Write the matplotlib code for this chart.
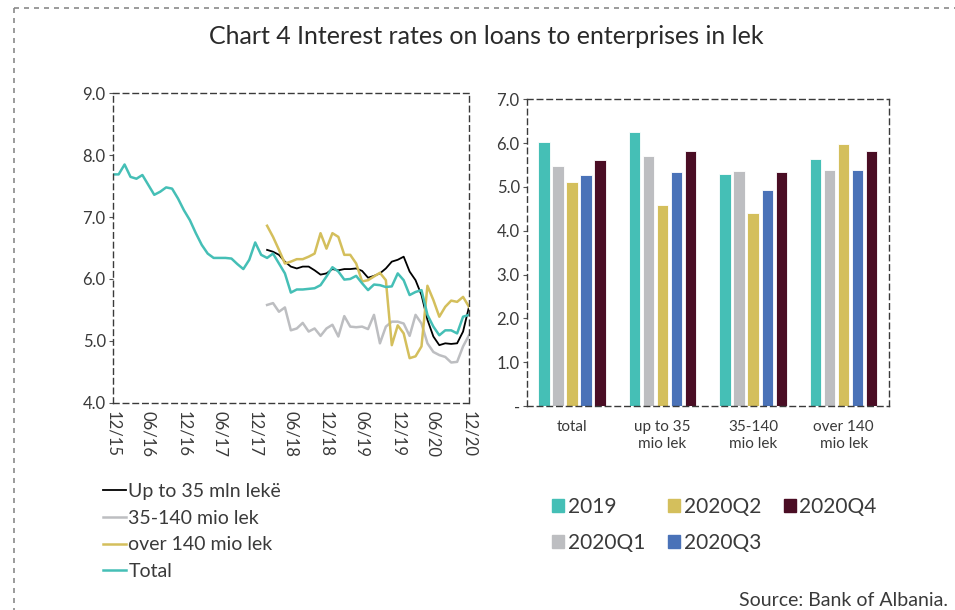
import numpy as np
import matplotlib.pyplot as plt
from matplotlib.lines import Line2D
from matplotlib.patches import Patch

plt.rcParams['font.family'] = ['Lato', 'DejaVu Sans']

# monthly data 12/15 .. 12/20 (61 months)
total = [7.69, 7.69, 7.85, 7.65, 7.62, 7.68, 7.52, 7.36, 7.41, 7.48,
         7.46, 7.30, 7.11, 6.95, 6.74, 6.55, 6.41, 6.34, 6.34, 6.34,
         6.33, 6.24, 6.16, 6.31, 6.59, 6.39, 6.34, 6.41, 6.25, 6.09,
         5.78, 5.83, 5.83, 5.84, 5.85, 5.90, 6.04, 6.19, 6.12, 5.99,
         6.00, 6.05, 5.93, 5.82, 5.91, 5.90, 5.87, 5.88, 6.09, 5.98,
         5.74, 5.79, 5.82, 5.42, 5.23, 5.09, 5.17, 5.17, 5.12, 5.39,
         5.42]
# the three size groups start in 02/18 (month 26)
start = 26
up_to_35 = [6.47, 6.44, 6.39, 6.28, 6.20, 6.17, 6.20, 6.20, 6.14, 6.07,
            6.09, 6.16, 6.14, 6.16, 6.16, 6.17, 6.13, 6.02, 6.05, 6.09,
            6.17, 6.28, 6.31, 6.36, 6.12, 5.98, 5.74, 5.34, 5.07, 4.93,
            4.96, 4.95, 4.96, 5.15, 5.55]
mid_35_140 = [5.58, 5.61, 5.47, 5.54, 5.17, 5.20, 5.29, 5.15, 5.20, 5.08,
              5.20, 5.26, 5.07, 5.40, 5.23, 5.22, 5.23, 5.19, 5.42, 4.96,
              5.23, 5.31, 5.31, 5.28, 5.08, 5.42, 5.28, 4.96, 4.82, 4.77,
              4.74, 4.65, 4.66, 4.91, 5.09]
over_140 = [6.86, 6.68, 6.47, 6.25, 6.28, 6.32, 6.32, 6.36, 6.41, 6.74,
            6.49, 6.74, 6.68, 6.39, 6.39, 6.25, 5.96, 5.98, 6.04, 6.10,
            5.98, 4.93, 5.25, 5.12, 4.72, 4.75, 4.91, 5.89, 5.66, 5.39,
            5.55, 5.65, 5.63, 5.71, 5.55]
month_labels = ['12/15', '06/16', '12/16', '06/17', '12/17', '06/18',
                '12/18', '06/19', '12/19', '06/20', '12/20']

# bar chart data
categories = ['total', 'up to 35\nmio lek', '35-140\nmio lek', 'over 140\nmio lek']
periods = ['2019', '2020Q1', '2020Q2', '2020Q3', '2020Q4']
bar_values = {
    '2019':   [6.02, 6.25, 5.29, 5.64],
    '2020Q1': [5.48, 5.70, 5.36, 5.38],
    '2020Q2': [5.11, 4.59, 4.41, 5.98],
    '2020Q3': [5.27, 5.34, 4.92, 5.39],
    '2020Q4': [5.62, 5.82, 5.33, 5.81],
}

TEAL = '#45BFB6'
GREY = '#BDBEC1'
GOLD = '#D4BF5C'
BLUE = '#4A72B8'
MAROON = '#4A0D24'
TXT = '#3a3a3a'
bar_colors = [TEAL, GREY, GOLD, BLUE, MAROON]


def pad(series):
    return [np.nan] * start + series


def dash_frame(ax):
    for s in ax.spines.values():
        s.set_linestyle((0, (4, 3)))
        s.set_color('#3a3a3a')
        s.set_linewidth(1.0)


fig = plt.figure(figsize=(9.55, 6.10), dpi=100)

# outer dashed border (top + left)
fig.add_artist(Line2D([14 / 955, 14 / 955], [1 - 8 / 610, 0], transform=fig.transFigure,
                      color='#8a8a8a', lw=1.2, ls=(0, (3, 3))))
fig.add_artist(Line2D([14 / 955, 1], [1 - 8 / 610, 1 - 8 / 610], transform=fig.transFigure,
                      color='#8a8a8a', lw=1.2, ls=(0, (3, 3))))

fig.text(0.509, 1 - 37 / 610, 'Chart 4 Interest rates on loans to enterprises in lek',
         ha='center', va='center', fontsize=18, color='#2a2a2a')

# ---- left: line chart
ax1 = fig.add_axes([0.1180, 0.3398, 0.3731, 0.5072])
x = np.arange(len(total))
ax1.plot(x, pad(up_to_35), color='black', lw=1.3, label='Up to 35 mln lekë')
ax1.plot(x, pad(mid_35_140), color=GREY, lw=1.8, label='35-140 mio lek')
ax1.plot(x, pad(over_140), color=GOLD, lw=1.8, label='over 140 mio lek')
ax1.plot(x, total, color=TEAL, lw=1.8, label='Total')
ax1.set_xlim(0, 60)
ax1.set_ylim(4, 9)
ax1.set_yticks(np.arange(4, 9.1, 1))
ax1.set_yticklabels(['%.1f' % v for v in np.arange(4, 9.1, 1)])
ax1.set_xticks(np.arange(0, 61, 6))
ax1.set_xticklabels(month_labels, rotation=270, ha='center', va='top')
ax1.tick_params(axis='x', length=0, pad=6, labelsize=12, colors=TXT)
ax1.tick_params(axis='y', length=3, width=0.8, color='#555555', pad=2,
                labelsize=12, labelcolor=TXT)
dash_frame(ax1)

h1, l1 = ax1.get_legend_handles_labels()
fig.legend(h1, l1, loc='upper left', bbox_to_anchor=(0.108, 1 - 483 / 610),
           bbox_transform=fig.transFigure, frameon=False, fontsize=14,
           handlelength=1.2, handletextpad=0.1, labelspacing=0.5,
           borderaxespad=0, borderpad=0, labelcolor=TXT)

# ---- right: bar chart
ax2 = fig.add_axes([0.5515, 0.3344, 0.3794, 0.5028])
xc = np.arange(len(categories))
step = 0.155
width = 0.125
for i, p in enumerate(periods):
    ax2.bar(xc + (i - 2) * step, bar_values[p], width=width, color=bar_colors[i],
            edgecolor='white', linewidth=0.6, label=p)
ax2.set_xlim(-0.5, 3.5)
ax2.set_ylim(0, 7)
ax2.set_yticks(np.arange(0, 7.1, 1))
ax2.set_yticklabels(['-'] + ['%.1f' % v for v in np.arange(1, 7.1, 1)])
ax2.set_xticks(xc)
ax2.set_xticklabels(categories, fontsize=11, color=TXT, linespacing=1.3)
ax2.tick_params(axis='x', length=0, pad=10)
ax2.tick_params(axis='y', length=3, width=0.8, color='#555555', pad=2,
                labelsize=12, labelcolor=TXT)
dash_frame(ax2)

h2 = [Patch(color=c) for c in bar_colors]
fig.legend(h2, periods, loc='upper left', bbox_to_anchor=(0.578, 1 - 497 / 610),
           bbox_transform=fig.transFigure, frameon=False, fontsize=15, ncol=3,
           handlelength=0.6, handleheight=0.6, handletextpad=0.15,
           columnspacing=1.1, labelspacing=0.75, borderaxespad=0, borderpad=0,
           labelcolor=TXT)

fig.text(0.993, 1 - 600 / 610, 'Source: Bank of Albania.', ha='right', va='center',
         fontsize=14, color=TXT)

fig.savefig('out.png', dpi=100)
